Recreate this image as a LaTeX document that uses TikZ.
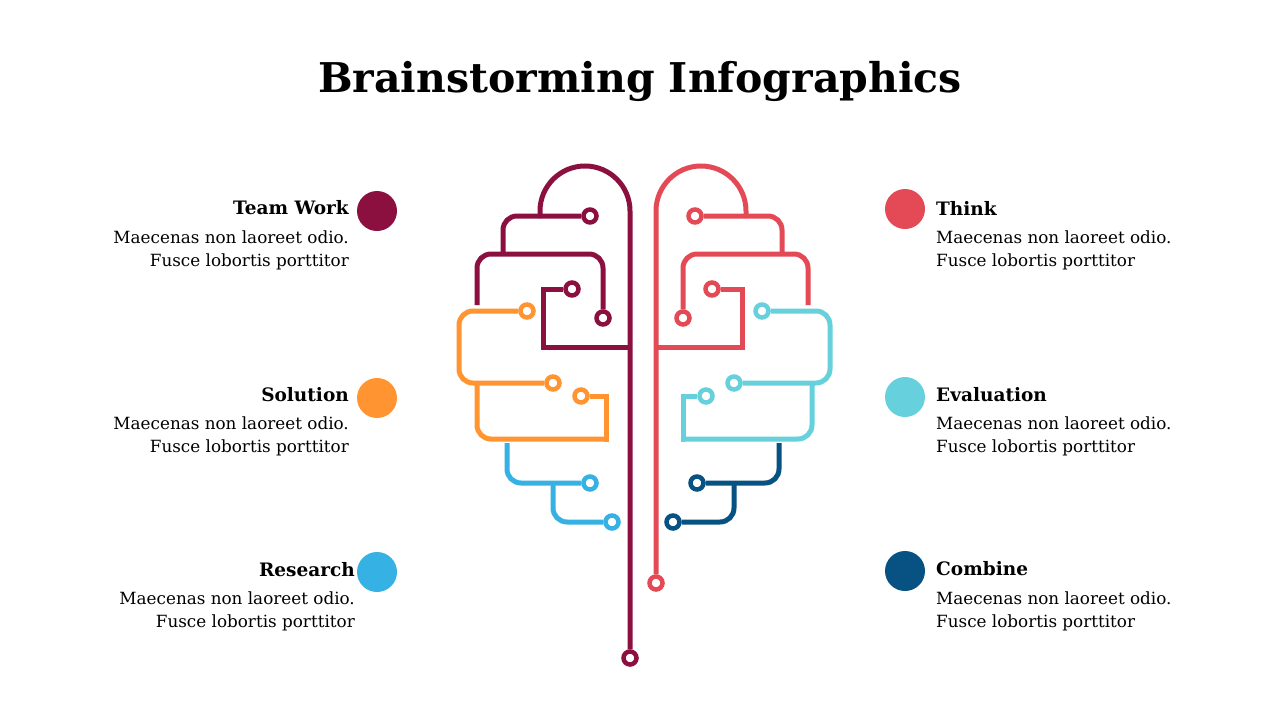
\documentclass[tikz,border=0pt]{standalone}
\usepackage{fontspec}
\setmainfont{DejaVu Serif}
\definecolor{maroon}{HTML}{8B1040}
\definecolor{redc}{HTML}{E34A56}
\definecolor{orangec}{HTML}{FF9430}
\definecolor{lblue}{HTML}{35B1E4}
\definecolor{cyanc}{HTML}{66D1DC}
\definecolor{dblue}{HTML}{075282}
\begin{document}
\begin{tikzpicture}[x=1pt,y=-1pt,
  wire/.style={line width=5pt,rounded corners=14pt},
  sharp/.style={line width=5pt,sharp corners},
  pin/.style={circle,draw,line width=4.5pt,fill=white,minimum size=13pt,inner sep=0pt},
  dot/.style={circle,fill=#1,minimum size=40pt,inner sep=0pt},
  head/.style={font=\bfseries\fontsize{18.5}{22}\selectfont},
  body/.style={font=\fontsize{16.8}{23}\selectfont,inner sep=0pt}]
\useasboundingbox (0,0) rectangle (1280,720);
\node (title) at (640,81) {\bfseries\fontsize{41}{46}\selectfont Brainstorming Infographics};
% maroon
\begin{scope}[draw=maroon]
\node[pin] (m1) at (630,658) {};
\node[pin] (m2) at (590,216) {};
\node[pin] (m3) at (603,318) {};
\node[pin] (m4) at (572,289) {};
\draw[sharp] (m1) -- (630,211) arc[start angle=0,end angle=-180,radius=45] -- (540,218);
\draw[wire] (m2) -- (503,216) -- (503,254);
\draw[wire] (m3) -- (603,254) -- (477,254) -- (477,305);
\draw[sharp] (m4) -- (543,289) -- (543,347) -- (630,347);
\end{scope}
% red
\begin{scope}[draw=redc]
\node[pin] (r1) at (656,583) {};
\node[pin] (r2) at (695,216) {};
\node[pin] (r3) at (683,318) {};
\node[pin] (r4) at (712,289) {};
\draw[sharp] (r1) -- (656,211) arc[start angle=180,end angle=360,radius=45] -- (746,218);
\draw[wire] (r2) -- (782,216) -- (782,254);
\draw[wire] (r3) -- (683,254) -- (808,254) -- (808,305);
\draw[sharp] (r4) -- (742,289) -- (742,347) -- (656,347);
\end{scope}
% orange
\begin{scope}[draw=orangec]
\node[pin] (o1) at (527,311) {};
\node[pin] (o2) at (553,383) {};
\node[pin] (o3) at (581,396) {};
\draw[wire] (o1) -- (459,311) -- (459,383) -- (o2);
\draw[wire] (477,383) -- (477,439) -- (606,439);
\draw[sharp] (604,439) -- (606,439) -- (606,396) -- (o3);
\end{scope}
% light blue
\begin{scope}[draw=lblue]
\node[pin] (b1) at (590,483) {};
\node[pin] (b2) at (612,522) {};
\draw[wire] (507,443) -- (507,483) -- (b1);
\draw[wire] (553,483) -- (553,522) -- (b2);
\end{scope}
% cyan
\begin{scope}[draw=cyanc]
\node[pin] (c1) at (762,311) {};
\node[pin] (c2) at (734,383) {};
\node[pin] (c3) at (706,396) {};
\draw[wire] (c1) -- (830,311) -- (830,383) -- (c2);
\draw[wire] (812,383) -- (812,439) -- (683,439);
\draw[sharp] (685,439) -- (683,439) -- (683,396) -- (c3);
\end{scope}
% dark blue
\begin{scope}[draw=dblue]
\node[pin] (d1) at (697,483) {};
\node[pin] (d2) at (673,522) {};
\draw[wire] (779,443) -- (779,483) -- (d1);
\draw[wire] (734,483) -- (734,522) -- (d2);
\end{scope}
% legend left
\node[dot=maroon] (L1) at (377,211) {};
\node[dot=orangec] (L2) at (377,398) {};
\node[dot=lblue] (L3) at (377,572) {};
\node[head,anchor=east,inner sep=0pt] (t1) at (349,208) {Team Work};
\node[head,anchor=east,inner sep=0pt] (t2) at (349,395) {Solution};
\node[head,anchor=east,inner sep=0pt] (t3) at (355,570) {Research};
\node[body,anchor=north east,align=right] (x1) at (349,231) {Maecenas non laoreet odio.\\Fusce lobortis porttitor};
\node[body,anchor=north east,align=right] (x2) at (349,417) {Maecenas non laoreet odio.\\Fusce lobortis porttitor};
\node[body,anchor=north east,align=right] (x3) at (355,592) {Maecenas non laoreet odio.\\Fusce lobortis porttitor};
% legend right
\node[dot=redc] (R1) at (905,209) {};
\node[dot=cyanc] (R2) at (905,397) {};
\node[dot=dblue] (R3) at (905,571) {};
\node[head,anchor=west,inner sep=0pt] (u1) at (936,208) {Think};
\node[head,anchor=west,inner sep=0pt] (u2) at (936,395) {Evaluation};
\node[head,anchor=west,inner sep=0pt] (u3) at (936,569) {Combine};
\node[body,anchor=north west,align=left] (y1) at (936,231) {Maecenas non laoreet odio.\\Fusce lobortis porttitor};
\node[body,anchor=north west,align=left] (y2) at (936,417) {Maecenas non laoreet odio.\\Fusce lobortis porttitor};
\node[body,anchor=north west,align=left] (y3) at (936,592) {Maecenas non laoreet odio.\\Fusce lobortis porttitor};
\end{tikzpicture}
\end{document}
